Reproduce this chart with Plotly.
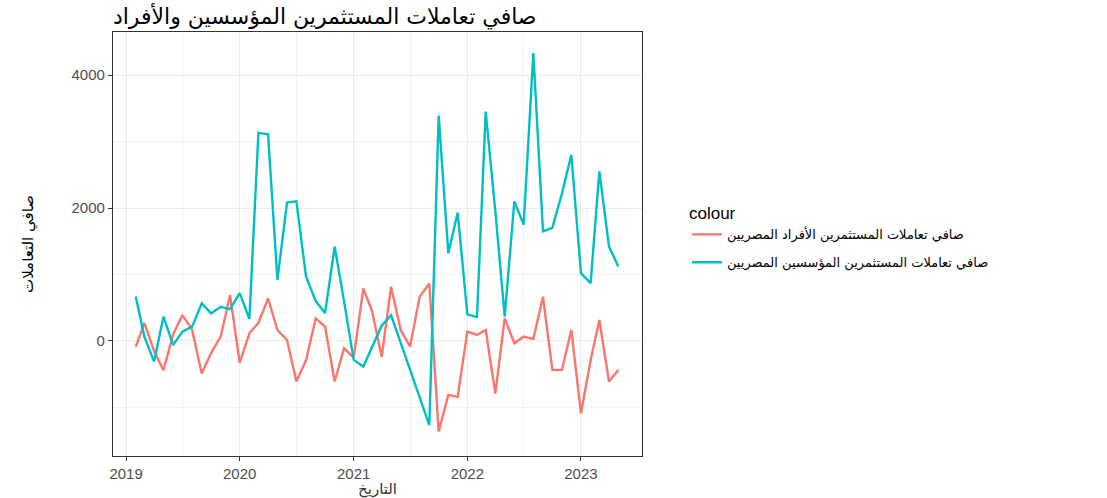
import pandas as pd
import plotly.graph_objects as go

dates = pd.date_range("2019-02-01", "2023-05-01", freq="MS")

individuals = [
    -90, 270, -150, -440, 100, 390, 170, -490, -180, 65, 690,   # Feb-Dec 2019
    -330, 115, 270, 640, 165, 15, -610, -290, 340, 215, -610, -110,  # 2020
    -250, 790, 450, -240, 815, 165, -85, 665, 865, -1360, -810, -840,  # 2021
    140, 90, 165, -790, 340, -35, 65, 30, 665, -435, -435, 165,  # 2022
    -1090, -290, 315, -610, -435,  # 2023
]

institutions = [
    670, 60, -310, 365, -60, 140, 215, 565, 415, 515, 480,   # Feb-Dec 2019
    720, 330, 3130, 3110, 920, 2080, 2100, 970, 600, 420, 1420, 600,  # 2020
    -285, -385, -85, 230, 390, -20, -430, -850, -1265, 3390, 1320, 1930,  # 2021
    400, 360, 3450, 1950, 365, 2100, 1750, 4330, 1650, 1700, 2220, 2800,  # 2022
    1020, 870, 2550, 1420, 1120,  # 2023
]

name_ind = "صافي تعاملات المستثمرين الأفراد المصريين"
name_inst = "صافي تعاملات المستثمرين المؤسسين المصريين"

fig = go.Figure()
fig.add_trace(go.Scatter(x=dates, y=individuals, mode="lines", name=name_ind,
                         legendgroup="a",
                         line=dict(color="#F8766D", width=2.4)))
fig.add_trace(go.Scatter(x=dates, y=institutions, mode="lines", name=name_inst,
                         legendgroup="b",
                         line=dict(color="#00BFC4", width=2.4)))

axis_font = dict(family="Liberation Sans, Arial, sans-serif", size=15, color="#4D4D4D")

fig.update_layout(
    width=1107, height=498,
    margin=dict(l=113, r=465, t=32, b=42),
    paper_bgcolor="white", plot_bgcolor="white",
    title=dict(text="صافي تعاملات المستثمرين المؤسسين والأفراد",
               x=0.102, xanchor="left", y=1 - 16 / 498, yanchor="middle",
               font=dict(family="DejaVu Sans, sans-serif", size=22, color="black")),
    legend=dict(title=dict(text="colour", font=dict(size=17, color="black",
                family="Liberation Sans, Arial, sans-serif")),
                x=1.085, xanchor="left", y=0.61, yanchor="top",
                tracegroupgap=8,
                font=dict(family="DejaVu Sans, sans-serif", size=13, color="black"),
                bgcolor="rgba(0,0,0,0)"),
    xaxis=dict(range=["2018-11-20", "2023-07-16"], showline=True, mirror=True,
               automargin=False,
               linecolor="#333333", linewidth=1.2,
               tickvals=["2019-01-01", "2020-01-01", "2021-01-01", "2022-01-01", "2023-01-01"],
               ticktext=["2019", "2020", "2021", "2022", "2023"],
               ticks="outside", ticklen=4, tickcolor="#333333",
               tickfont=axis_font, gridcolor="#EBEBEB", gridwidth=1.1,
               minor=dict(tickvals=["2019-07-02", "2020-07-02", "2021-07-02", "2022-07-02"],
                          showgrid=True, gridcolor="#F2F2F2", gridwidth=0.6),
               zeroline=False,
               title=dict(text="التاريخ", standoff=2,
                          font=dict(family="DejaVu Sans, sans-serif", size=15, color="#333333"))),
    yaxis=dict(range=[-1730, 4647], showline=True, mirror=True,
               automargin=False,
               linecolor="#333333", linewidth=1.2,
               tickvals=[0, 2000, 4000], ticks="outside", ticklen=4, tickcolor="#333333",
               tickfont=axis_font, gridcolor="#EBEBEB", gridwidth=1.1,
               minor=dict(tickvals=[-1000, 1000, 3000], showgrid=True,
                          gridcolor="#F2F2F2", gridwidth=0.6),
               zeroline=False,
               title=dict(text="صافي التعاملات", standoff=34,
                          font=dict(family="DejaVu Sans, sans-serif", size=15, color="black"))),
)

fig.write_html("out.html", config={"displayModeBar": False},
               post_script="document.body.style.margin='0';")
